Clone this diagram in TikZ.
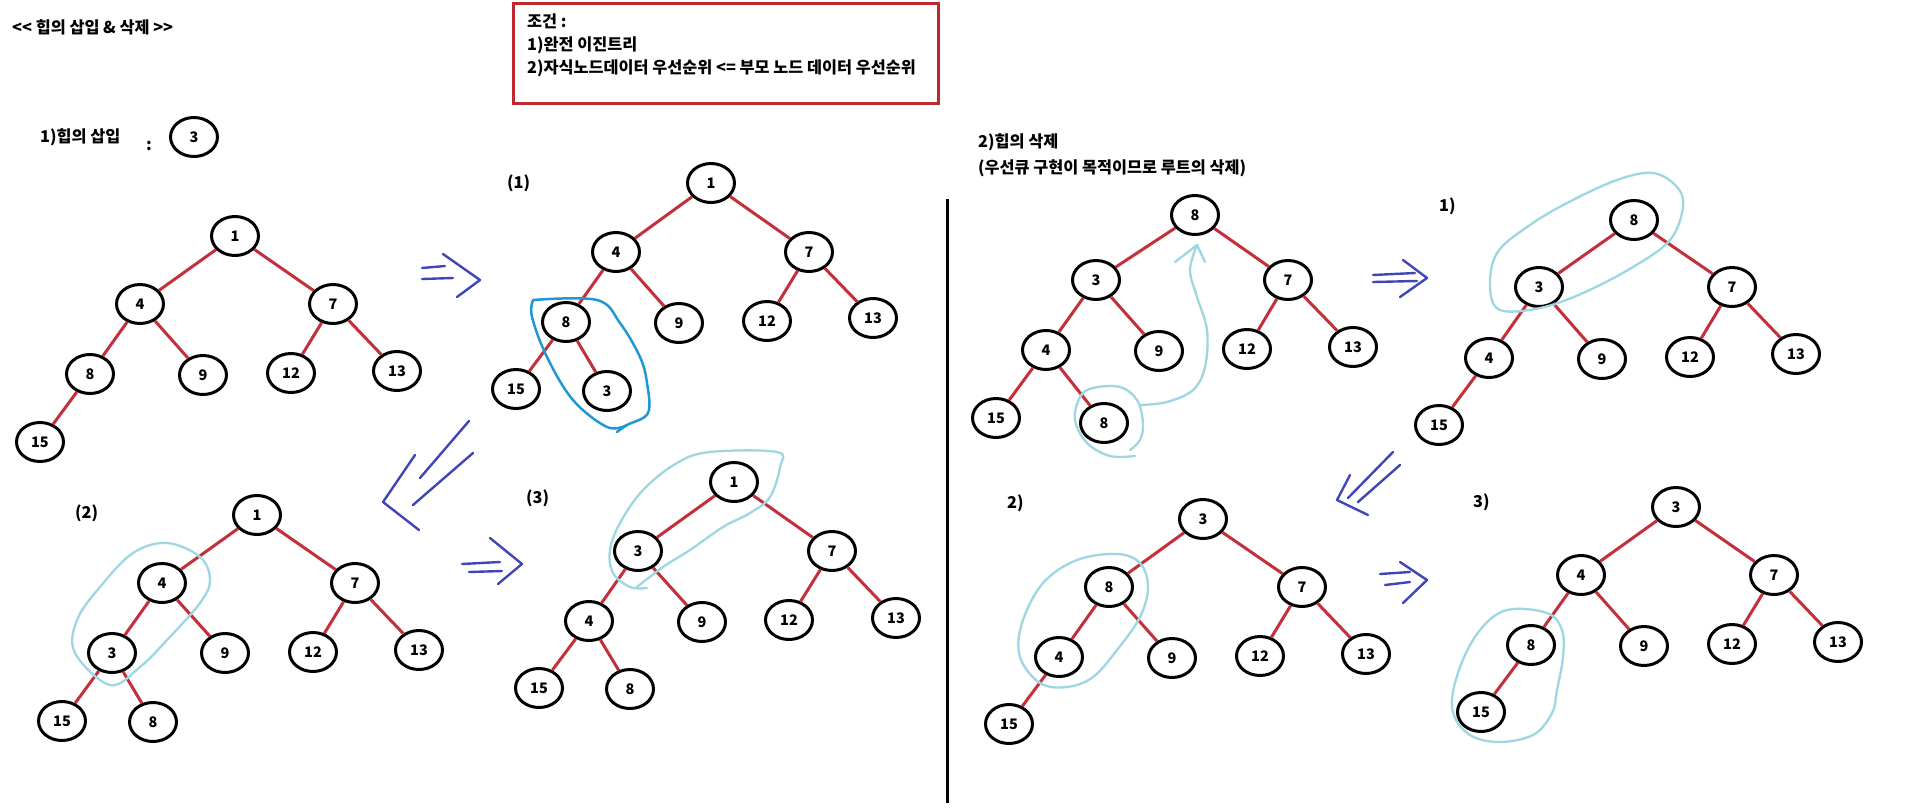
\documentclass[tikz,border=0pt]{standalone}
\usepackage{fontspec}
\setmainfont{Noto Sans CJK KR}
\usetikzlibrary{shapes.geometric}
\definecolor{edgered}{HTML}{C4303A}
\definecolor{boxred}{HTML}{C0282F}
\definecolor{lightloop}{HTML}{9ED6E2}
\definecolor{darkloop}{HTML}{2098D4}
\definecolor{penblue}{HTML}{4046B8}
\tikzset{
  nd/.style={ellipse, draw=black, line width=3pt, minimum width=47pt, minimum height=39pt, inner sep=0pt, font=\fontsize{14.5}{14.5}\selectfont\bfseries},
  ed/.style={draw=edgered, line width=3pt},
  lbl/.style={anchor=west, inner sep=0pt, font=\fontsize{16.3}{18}\selectfont\bfseries},
  loopl/.style={draw=lightloop, line width=2.3pt, line cap=round, line join=round},
  loopd/.style={draw=darkloop, line width=2.5pt, line cap=round, line join=round},
  pen/.style={draw=penblue, line width=2.4pt, line cap=round, line join=round},
}
\begin{document}
\begin{tikzpicture}[x=1pt,y=-1pt]
\useasboundingbox[fill=white] (0,0) rectangle (1914,807);

% ---------- texts ----------
\node[lbl] (title) at (12,27) {<{}< 힙의 삽입 \& 삭제 >{}>};
\node[draw=boxred, line width=3pt, minimum width=425pt, minimum height=100pt, anchor=north west, inner sep=0pt] (cond) at (512,2) {};
\node[lbl] (c0) at (527,21) {조건 :};
\node[lbl] (c1) at (527,45) {1)완전 이진트리};
\node[lbl] (c2) at (527,68) {2)자식노드데이터 우선순위 <= 부모 노드 데이터 우선순위};
\node[lbl] (ins) at (40,137) {1)힙의 삽입};
\node[lbl] (colon) at (146,146) {:};
\node[nd] (new3) at (194,137) {3};
\node[lbl] (del) at (978,142) {2)힙의 삭제};
\node[lbl] (delsub) at (978,168) {(우선큐 구현이 목적이므로 루트의 삭제)};
\node[lbl] (s1) at (507,183) {(1)};
\node[lbl] (s2) at (75,513) {(2)};
\node[lbl] (s3) at (526,498) {(3)};
\node[lbl] (t1) at (1439,206) {1)};
\node[lbl] (t2) at (1007,503) {2)};
\node[lbl] (t3) at (1473,502) {3)};

% divider
\coordinate (vtop) at (947,199);
\coordinate (vbot) at (947,803);
\draw[line width=3pt] (vtop) -- (vbot);

% ---------- Tree A ----------
\node[nd] (a1) at (235,236) {1};
\node[nd] (a4) at (140,304) {4};
\node[nd] (a7) at (333,304) {7};
\node[nd] (a8) at (90,374) {8};
\node[nd] (a9) at (203,375) {9};
\node[nd] (a12) at (291,373) {12};
\node[nd] (a13) at (397,371) {13};
\node[nd] (a15) at (40,442) {15};
\draw[ed] (a1)--(a4) (a1)--(a7) (a4)--(a8) (a4)--(a9) (a7)--(a12) (a7)--(a13) (a8)--(a15);

% ---------- Tree B ----------
\node[nd] (b1) at (711,183) {1};
\node[nd] (b4) at (616,252) {4};
\node[nd] (b7) at (809,252) {7};
\node[nd] (b8) at (566,322) {8};
\node[nd] (b9) at (679,323) {9};
\node[nd] (b12) at (767,321) {12};
\node[nd] (b13) at (873,318) {13};
\node[nd] (b15) at (516,389) {15};
\node[nd] (b3) at (607,391) {3};
\draw[ed] (b1)--(b4) (b1)--(b7) (b4)--(b8) (b4)--(b9) (b7)--(b12) (b7)--(b13) (b8)--(b15) (b8)--(b3);

% ---------- Tree C ----------
\node[nd] (c1) at (257,515) {1};
\node[nd] (c4) at (162,583) {4};
\node[nd] (c7) at (355,583) {7};
\node[nd] (c3) at (112,653) {3};
\node[nd] (c9) at (225,653) {9};
\node[nd] (c12) at (313,652) {12};
\node[nd] (c13) at (419,650) {13};
\node[nd] (c15) at (62,721) {15};
\node[nd] (c8) at (153,722) {8};
\draw[ed] (c1)--(c4) (c1)--(c7) (c4)--(c3) (c4)--(c9) (c7)--(c12) (c7)--(c13) (c3)--(c15) (c3)--(c8);

% ---------- Tree D ----------
\node[nd] (d1) at (734,482) {1};
\node[nd] (d3) at (638,551) {3};
\node[nd] (d7) at (832,551) {7};
\node[nd] (d4) at (589,621) {4};
\node[nd] (d9) at (702,622) {9};
\node[nd] (d12) at (789,620) {12};
\node[nd] (d13) at (896,618) {13};
\node[nd] (d15) at (539,688) {15};
\node[nd] (d8) at (630,689) {8};
\draw[ed] (d1)--(d3) (d1)--(d7) (d3)--(d4) (d3)--(d9) (d7)--(d12) (d7)--(d13) (d4)--(d15) (d4)--(d8);

% ---------- Tree E ----------
\node[nd] (e8) at (1195,215) {8};
\node[nd] (e3) at (1096,280) {3};
\node[nd] (e7) at (1288,280) {7};
\node[nd] (e4) at (1046,350) {4};
\node[nd] (e9) at (1159,351) {9};
\node[nd] (e12) at (1247,349) {12};
\node[nd] (e13) at (1353,347) {13};
\node[nd] (e15) at (996,418) {15};
\node[nd] (e8b) at (1104,423) {8};
\draw[ed] (e8)--(e3) (e8)--(e7) (e3)--(e4) (e3)--(e9) (e7)--(e12) (e7)--(e13) (e4)--(e15) (e4)--(e8b);

% ---------- Tree F ----------
\node[nd] (f8) at (1634,220) {8};
\node[nd] (f3) at (1539,287) {3};
\node[nd] (f7) at (1732,287) {7};
\node[nd] (f4) at (1489,358) {4};
\node[nd] (f9) at (1602,359) {9};
\node[nd] (f12) at (1690,357) {12};
\node[nd] (f13) at (1796,354) {13};
\node[nd] (f15) at (1439,425) {15};
\draw[ed] (f8)--(f3) (f8)--(f7) (f3)--(f4) (f3)--(f9) (f7)--(f12) (f7)--(f13) (f4)--(f15);

% ---------- Tree G ----------
\node[nd] (g3) at (1203,519) {3};
\node[nd] (g8) at (1109,587) {8};
\node[nd] (g7) at (1302,587) {7};
\node[nd] (g4) at (1059,657) {4};
\node[nd] (g9) at (1172,658) {9};
\node[nd] (g12) at (1260,656) {12};
\node[nd] (g13) at (1366,654) {13};
\node[nd] (g15) at (1009,724) {15};
\draw[ed] (g3)--(g8) (g3)--(g7) (g8)--(g4) (g8)--(g9) (g7)--(g12) (g7)--(g13) (g4)--(g15);

% ---------- Tree H ----------
\node[nd] (h3) at (1676,507) {3};
\node[nd] (h4) at (1581,575) {4};
\node[nd] (h7) at (1774,575) {7};
\node[nd] (h8) at (1531,645) {8};
\node[nd] (h9) at (1644,646) {9};
\node[nd] (h12) at (1732,644) {12};
\node[nd] (h13) at (1838,642) {13};
\node[nd] (h15) at (1481,712) {15};
\draw[ed] (h3)--(h4) (h3)--(h7) (h4)--(h8) (h4)--(h9) (h7)--(h12) (h7)--(h13) (h8)--(h15);

% ---------- highlight loops ----------
\draw[loopd] plot[smooth, tension=0.6] coordinates {(533,300) (597,300) (620,323) (640,357) (647,383) (648,413) (627,425) (617,432)};
\draw[loopd] plot[smooth, tension=0.6] coordinates {(533,300) (532,317) (547,357) (573,400) (607,427) (627,425)};
\draw[loopl] plot[smooth cycle, tension=0.6] coordinates {(110,685) (75,653) (77,620) (100,587) (133,553) (167,543) (200,557) (210,580) (200,603) (167,640) (140,667)};
\draw[loopl] plot[smooth, tension=0.6] coordinates {(647,588) (630,587) (613,573) (610,550) (620,523) (643,490) (677,463) (710,452) (777,452) (780,467) (770,497) (750,513) (723,527) (690,550) (663,567) (637,587)};
\draw[loopl] plot[smooth, tension=0.6] coordinates {(1135,456) (1110,456) (1087,443) (1075,420) (1080,397) (1093,388) (1120,387) (1137,400) (1143,423) (1140,440) (1130,450)};
\draw[loopl] plot[smooth, tension=0.6] coordinates {(1140,405) (1167,402) (1193,390) (1205,367) (1207,330) (1197,297) (1190,270) (1197,245)};
\draw[loopl] (1175,262) -- (1197,245) -- (1205,262);
\draw[loopl] plot[smooth cycle, tension=0.6] coordinates {(1500,310) (1490,287) (1497,253) (1527,227) (1567,203) (1617,180) (1653,173) (1677,187) (1683,207) (1670,240) (1633,267) (1583,293) (1540,308)};
\draw[loopl] plot[smooth cycle, tension=0.6] coordinates {(1067,687) (1040,683) (1020,657) (1022,623) (1043,583) (1077,560) (1117,554) (1140,563) (1148,587) (1140,617) (1117,650) (1093,677)};
\draw[loopl] plot[smooth cycle, tension=0.6] coordinates {(1507,610) (1480,630) (1460,667) (1452,707) (1467,733) (1497,742) (1533,735) (1552,713) (1557,690) (1563,657) (1562,630) (1547,613)};

% ---------- pen arrows ----------
\draw[pen] (422,268) -- (445,266) (422,279) -- (453,278);
\draw[pen] (443,254) -- (480,280) -- (457,297);
\draw[pen] (469,421) -- (420,478) (473,453) -- (413,505);
\draw[pen] (415,455) -- (383,502) -- (419,530);
\draw[pen] (462,564) -- (500,562) (469,572) -- (502,571);
\draw[pen] (490,538) -- (522,564) -- (498,584);
\draw[pen] (1373,275) -- (1415,273) (1373,282) -- (1417,281);
\draw[pen] (1403,260) -- (1427,278) -- (1400,297);
\draw[pen] (1393,452) -- (1348,498) (1400,465) -- (1358,502);
\draw[pen] (1350,475) -- (1337,500) -- (1368,515);
\draw[pen] (1380,574) -- (1410,572) (1385,585) -- (1410,582);
\draw[pen] (1400,562) -- (1427,580) -- (1403,603);
\end{tikzpicture}
\end{document}
